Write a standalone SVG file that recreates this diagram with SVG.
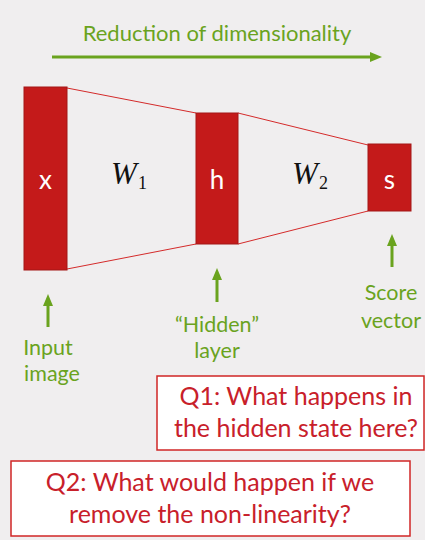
<svg xmlns="http://www.w3.org/2000/svg" width="425" height="540" viewBox="0 0 425 540">
<defs>
<style>
.bg{fill:#f0eeef}
.layer{fill:#c41a1a;stroke:#a31616;stroke-width:1}
.conn{stroke:#d42a2a;stroke-width:1;fill:none}
.garr{stroke:#6aa31e;stroke-width:3;fill:none}
.gtxt{fill:#6aa31e;font-family:Lato,"Open Sans",sans-serif;font-size:21.5px;text-anchor:middle}
.wtxt{fill:#ffffff;font-family:Lato,"Open Sans",sans-serif;font-size:26px;text-anchor:middle}
.math{fill:#111;font-family:"Liberation Serif","DejaVu Serif",serif;font-size:31px;font-style:italic}
.sub{fill:#111;font-family:"Liberation Serif","DejaVu Serif",serif;font-size:18px}
.qbox{fill:#ffffff;stroke:#d02626;stroke-width:1.5}
.qtxt{fill:#c8202a;font-family:Lato,"Open Sans",sans-serif;font-size:25px;text-anchor:middle}
</style>
<marker id="gh" markerWidth="12" markerHeight="10" refX="0" refY="5" orient="auto" markerUnits="userSpaceOnUse">
<path d="M0,0 L12,5 L0,10 Z" fill="#6aa31e"/>
</marker>
</defs>
<rect class="bg" x="0" y="0" width="425" height="540"/>
<g id="title">
<text class="gtxt" x="217" y="41" style="font-size:22px">Reduction of dimensionality</text>
<line class="garr" x1="52" y1="57" x2="370" y2="57" stroke-width="4" marker-end="url(#gh)"/>
</g>
<g id="connectors">
<line class="conn" x1="67" y1="88" x2="196" y2="113"/>
<line class="conn" x1="67" y1="269" x2="196" y2="244"/>
<line class="conn" x1="238" y1="113" x2="368" y2="145"/>
<line class="conn" x1="238" y1="244" x2="368" y2="211"/>
<line class="garr" x1="48" y1="327" x2="48" y2="306" marker-end="url(#gh)"/>
<line class="garr" x1="217" y1="302" x2="217" y2="280" marker-end="url(#gh)"/>
<line class="garr" x1="392" y1="267" x2="392" y2="246" marker-end="url(#gh)"/>
</g>
<g id="node-x">
<rect class="layer" x="24" y="87" width="43" height="183"/>
<text class="wtxt" x="45.5" y="189">x</text>
</g>
<g id="node-h">
<rect class="layer" x="196" y="113" width="42" height="131"/>
<text class="wtxt" x="217" y="189">h</text>
</g>
<g id="node-s">
<rect class="layer" x="368" y="144" width="43" height="67"/>
<text class="wtxt" x="389.5" y="189">s</text>
</g>
<g id="label-w1">
<text class="math" x="111" y="184">W</text>
<text class="sub" x="138" y="189">1</text>
</g>
<g id="label-w2">
<text class="math" x="292" y="184">W</text>
<text class="sub" x="319" y="189">2</text>
</g>
<g id="label-input">
<text class="gtxt" x="48" y="355">Input</text>
<text class="gtxt" x="52" y="381">image</text>
</g>
<g id="label-hidden">
<text class="gtxt" x="217" y="332">“Hidden”</text>
<text class="gtxt" x="217" y="358">layer</text>
</g>
<g id="label-score">
<text class="gtxt" x="391" y="300">Score</text>
<text class="gtxt" x="391" y="328">vector</text>
</g>
<g id="q1">
<rect class="qbox" x="157" y="376" width="267" height="74"/>
<text class="qtxt" x="296" y="405">Q1: What happens in</text>
<text class="qtxt" x="296" y="437">the hidden state here?</text>
</g>
<g id="q2">
<rect class="qbox" x="11" y="461" width="399" height="75"/>
<text class="qtxt" x="210" y="491">Q2: What would happen if we</text>
<text class="qtxt" x="210" y="523">remove the non-linearity?</text>
</g>
</svg>
